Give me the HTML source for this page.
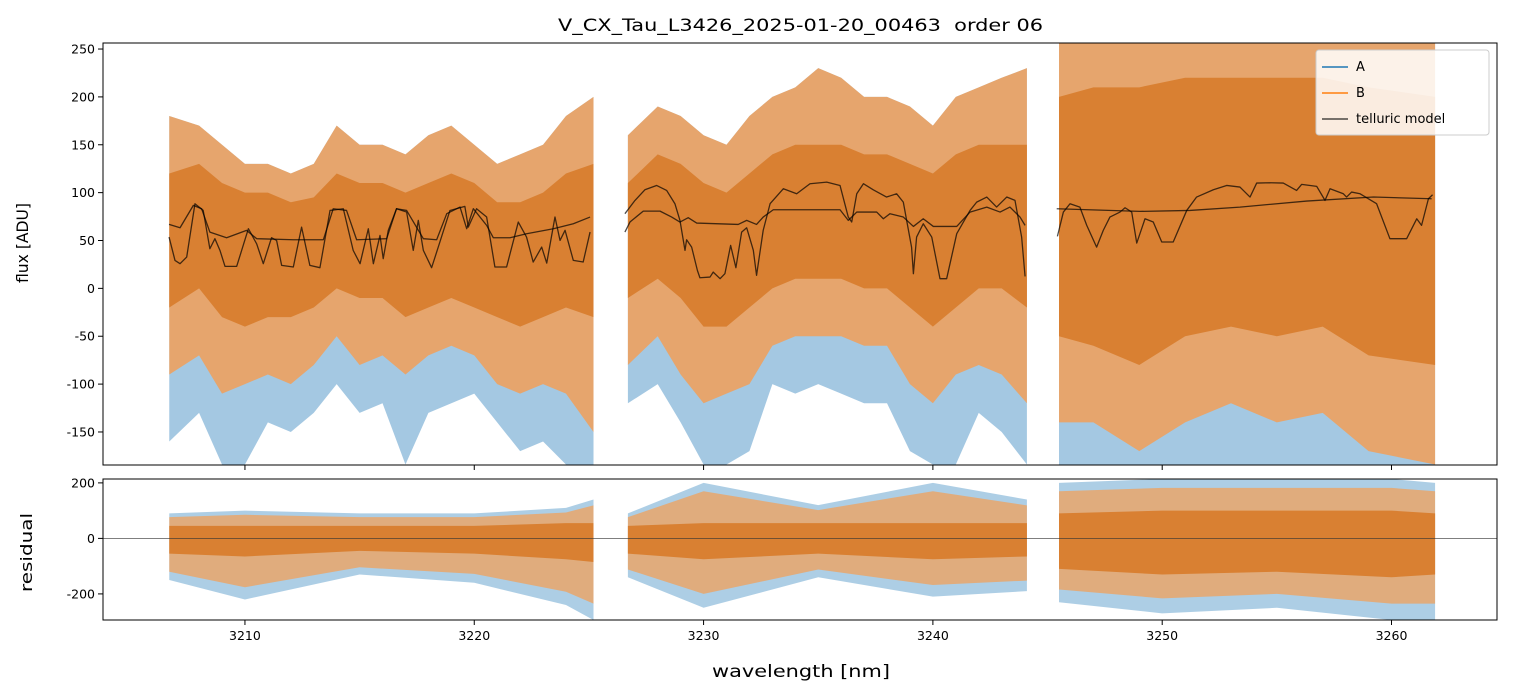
<!DOCTYPE html>
<html><head><meta charset="utf-8">
<style>
body{margin:0;background:#fff;}
svg{display:block;font-family:"DejaVu Sans","Liberation Sans",sans-serif;}
</style></head>
<body>
<svg id="chart" width="1513" height="696" viewBox="0 0 1513 696" xmlns="http://www.w3.org/2000/svg">
<defs>
<clipPath id="clipMain"><rect x="103" y="43" width="1394" height="422"/></clipPath>
<clipPath id="clipRes"><rect x="103" y="479" width="1394" height="141"/></clipPath>
</defs>
<text x="558" y="31" font-size="17" fill="#000" textLength="485" lengthAdjust="spacingAndGlyphs" xml:space="preserve">V_CX_Tau_L3426_2025-01-20_00463  order 06</text>
<g id="mainMarks" clip-path="url(#clipMain)"></g>
<g id="resMarks" clip-path="url(#clipRes)"></g>
<g id="axes"></g>
<text transform="translate(28,283) rotate(-90)" font-size="16" textLength="80" lengthAdjust="spacingAndGlyphs">flux [ADU]</text>
<text transform="translate(32,592) rotate(-90)" font-size="16" textLength="79" lengthAdjust="spacingAndGlyphs">residual</text>
<text x="712" y="677" font-size="17" textLength="178" lengthAdjust="spacingAndGlyphs">wavelength [nm]</text>
<g>
<rect x="1316" y="50" width="173" height="85" rx="3" fill="#fff" fill-opacity="0.85" stroke="#ccc"/>
<line x1="1322" y1="67" x2="1348" y2="67" stroke="#1f77b4" stroke-width="1.5"/>
<text x="1356" y="71" font-size="13">A</text>
<line x1="1322" y1="93" x2="1348" y2="93" stroke="#ff7f0e" stroke-width="1.5"/>
<text x="1356" y="97" font-size="13">B</text>
<line x1="1322" y1="119" x2="1348" y2="119" stroke="#000" stroke-opacity="0.7" stroke-width="1.5"/>
<text x="1356" y="123" font-size="13">telluric model</text>
</g>
</svg>
<script>
// ---- data ----
const xTicks=[3210,3220,3230,3240,3250,3260];
const yTicksMain=[-150,-100,-50,0,50,100,150,200,250];
const yTicksRes=[-200,0,200];
// flux envelopes per segment: wavelength, outerHi, coreHi, coreLo, outerLo, blueLo
const envWl=[[3206.7,3208,3209,3210,3211,3212,3213,3214,3215,3216,3217,3218,3219,3220,3221,3222,3223,3224,3225.2],
[3226.7,3228,3229,3230,3231,3232,3233,3234,3235,3236,3237,3238,3239,3240,3241,3242,3243,3244.1],
[3245.5,3247,3249,3251,3253,3255,3257,3259,3261.9]];
const envOutHi=[[180,170,150,130,130,120,130,170,150,150,140,160,170,150,130,140,150,180,200],
[160,190,180,160,150,180,200,210,230,220,200,200,190,170,200,210,220,230],
[256,256,256,256,256,256,256,256,256]];
const envCoreHi=[[120,130,110,100,100,90,95,120,110,110,100,110,120,110,90,90,100,120,130],
[110,140,130,110,100,120,140,150,150,150,140,140,130,120,140,150,150,150],
[200,210,210,220,220,220,220,210,200]];
const envCoreLo=[[-20,0,-30,-40,-30,-30,-20,0,-10,-10,-30,-20,-10,-20,-30,-40,-30,-20,-30],
[-10,10,-10,-40,-40,-20,0,10,10,10,0,0,-20,-40,-20,0,0,-20],
[-50,-60,-80,-50,-40,-50,-40,-70,-80]];
const envOutLo=[[-90,-70,-110,-100,-90,-100,-80,-50,-80,-70,-90,-70,-60,-70,-100,-110,-100,-110,-150],
[-80,-50,-90,-120,-110,-100,-60,-50,-50,-50,-60,-60,-100,-120,-90,-80,-90,-120],
[-140,-140,-170,-140,-120,-140,-130,-170,-184]];
const envBlueLo=[[-160,-130,-184,-184,-140,-150,-130,-100,-130,-120,-184,-130,-120,-110,-140,-170,-160,-184,-184],
[-120,-100,-140,-184,-184,-170,-100,-110,-100,-110,-120,-120,-170,-184,-184,-130,-150,-184],
[-184,-184,-184,-184,-184,-184,-184,-184,-184]];
// residual envelopes
const resWl=[[3206.7,3210,3215,3220,3224,3225.2],[3226.7,3230,3235,3240,3244.1],[3245.5,3250,3255,3260,3261.9]];
const resOutHi=[[90,100,90,90,110,140],[90,200,120,200,140],[200,214,214,214,200]];
const resCoreHi=[[45,45,45,45,55,55],[45,55,55,55,55],[90,100,100,100,90]];
const resCoreLo=[[-55,-65,-45,-55,-75,-85],[-55,-75,-55,-75,-65],[-110,-130,-120,-140,-130]];
const resOutLo=[[-150,-220,-130,-160,-240,-294],[-140,-250,-140,-210,-190],[-230,-270,-250,-294,-294]];
// telluric model curves (two per segment)
const tellWl=[
[3206.69,3207.17,3207.75,3208.11,3208.47,3209.20,3210.07,3210.51,3212.11,3213.42,3213.85,3214.43,3214.87,3216.18,3216.61,3217.05,3217.78,3218.36,3218.80,3219.38,3219.67,3219.96,3220.54,3220.83,3221.56,3222.28,3223.45,3224.32,3225.05],
[3206.69,3206.95,3207.17,3207.46,3207.82,3208.18,3208.47,3208.69,3208.91,3209.13,3209.64,3210.15,3210.51,3210.80,3211.16,3211.38,3211.60,3212.11,3212.47,3212.83,3213.27,3213.71,3214.29,3214.72,3215.02,3215.38,3215.60,3215.89,3216.03,3216.25,3216.61,3217.05,3217.34,3217.56,3217.78,3218.14,3218.43,3218.94,3219.59,3219.74,3220.10,3220.54,3220.90,3221.41,3221.92,3222.28,3222.57,3222.94,3223.16,3223.52,3223.74,3223.96,3224.32,3224.75,3225.05],
[3226.57,3227.01,3227.44,3227.95,3228.39,3228.75,3228.97,3229.19,3229.26,3229.48,3229.73,3229.84,3230.28,3230.42,3230.72,3230.93,3231.18,3231.41,3231.66,3231.88,3232.17,3232.31,3232.60,3232.90,3233.48,3234.06,3234.64,3235.37,3235.95,3236.31,3236.46,3236.68,3236.97,3237.40,3237.98,3238.42,3238.71,3239.07,3239.15,3239.29,3239.58,3239.95,3240.31,3240.60,3241.04,3241.62,3241.91,3242.35,3242.78,3243.22,3243.58,3243.87,3244.02],
[3226.57,3226.79,3227.37,3228.10,3228.61,3228.97,3229.33,3229.70,3231.51,3231.88,3232.31,3232.60,3233.04,3234.64,3235.95,3236.31,3236.68,3237.55,3237.84,3238.13,3238.71,3239.15,3239.58,3240.02,3241.04,3241.62,3242.35,3242.93,3243.36,3243.80,3244.02],
[3245.40,3249.03,3251.21,3253.39,3256.30,3259.21,3261.75],
[3245.43,3245.69,3245.98,3246.41,3246.71,3247.14,3247.43,3247.72,3248.16,3248.38,3248.67,3248.89,3249.25,3249.61,3249.98,3250.48,3251.07,3251.50,3252.23,3252.81,3253.39,3253.83,3254.12,3254.70,3255.28,3255.86,3256.08,3256.74,3257.10,3257.32,3257.90,3258.04,3258.26,3258.63,3259.35,3259.93,3260.66,3261.10,3261.31,3261.61,3261.79]];
const tellFlux=[
[66.8,63.3,86.7,83.2,58.8,52.9,60.6,51.9,50.8,50.8,83.2,81.4,50.8,51.9,83.2,81.4,51.9,50.8,78.0,84.9,62.3,83.2,65.8,52.9,52.9,57.1,62.3,67.5,74.5],
[53.6,29.2,25.8,32.7,88.4,81.4,41.4,51.9,39.7,23.0,23.0,62.3,46.6,25.8,52.9,50.1,24.0,22.3,64.0,24.0,21.6,81.4,83.2,39.7,25.8,62.3,25.8,55.3,31.0,60.6,83.2,79.7,39.7,71.0,39.7,21.6,43.1,81.4,85.6,64.0,83.2,74.5,22.3,22.3,69.3,53.6,27.5,43.1,26.4,74.5,50.1,60.6,29.2,27.5,58.8],
[78.0,91.9,103.0,107.5,102.3,88.4,71.0,39.7,50.8,43.1,18.8,11.1,11.8,17.0,10.1,15.3,44.9,21.6,58.8,63.3,39.7,13.6,60.6,88.4,104.1,98.8,109.3,111.0,107.5,74.5,69.3,98.8,109.3,103.0,95.4,98.8,90.1,43.1,15.3,53.6,67.5,53.6,10.1,10.1,57.1,81.4,90.1,95.4,84.9,95.4,91.9,53.6,12.5],
[58.8,69.3,80.7,80.7,74.5,69.3,73.8,68.2,66.8,71.0,66.8,74.5,82.1,82.1,82.1,71.0,79.7,79.7,72.7,78.0,74.5,64.7,72.7,64.7,64.7,79.7,84.9,79.7,84.9,74.5,65.8],
[83.2,80.4,81.4,84.9,91.2,95.4,93.6],
[54.3,79.7,88.4,84.9,65.8,43.1,60.6,74.5,79.7,84.2,79.7,47.3,72.7,69.3,48.4,48.4,81.4,95.4,103.0,107.5,105.8,95.4,110.0,110.3,110.0,102.3,108.6,106.5,91.9,104.1,98.8,95.4,100.6,98.8,88.4,51.9,51.9,72.7,65.8,93.6,97.8]];

// ---- scales ----
const X0=103,X1=1497;
const xmin=3203.81,xmax=3264.6;
const sx=v=>X0+(v-xmin)/(xmax-xmin)*(X1-X0);
const MY0=43,MY1=465,mymin=-184.5,mymax=256.3;
const sy=v=>MY1-(v-mymin)/(mymax-mymin)*(MY1-MY0);
const RY0=479,RY1=620,rymin=-294,rymax=214;
const sr=v=>RY1-(v-rymin)/(rymax-rymin)*(RY1-RY0);
const NS='http://www.w3.org/2000/svg';
function mk(tag,attrs,parent){const e=document.createElementNS(NS,tag);for(const k in attrs)e.setAttribute(k,attrs[k]);parent.appendChild(e);return e;}
function band(wl,hi,lo,scale){let p=wl.map((w,i)=>sx(w)+','+scale(hi[i]));for(let i=wl.length-1;i>=0;i--)p.push(sx(wl[i])+','+scale(lo[i]));return p.join(' ');}

const main=document.getElementById('mainMarks');
for(let s=0;s<3;s++){
  const b=mk('polygon',{points:band(envWl[s],envOutHi[s],envBlueLo[s],sy),fill:'#4a92c6','fill-opacity':0.5},main);
  
  
  const o=mk('polygon',{points:band(envWl[s],envOutHi[s],envOutLo[s],sy),fill:'#fc9a45','fill-opacity':0.75},main);
  
  
  const c=mk('polygon',{points:band(envWl[s],envCoreHi[s],envCoreLo[s],sy),fill:'#d98032'},main);
  
  
}
for(let k=0;k<tellWl.length;k++){
  const l=mk('polyline',{points:tellWl[k].map((w,i)=>sx(w)+','+sy(tellFlux[k][i])).join(' '),fill:'none',stroke:'#000','stroke-opacity':0.7,'stroke-width':1.3,'stroke-linejoin':'round'},main);
  
  
}
const res=document.getElementById('resMarks');
for(let s=0;s<3;s++){
  const b=mk('polygon',{points:band(resWl[s],resOutHi[s],resOutLo[s],sr),fill:'#4a92c6','fill-opacity':0.45},res);
  
  
  const o=mk('polygon',{points:band(resWl[s],resOutHi[s].map(v=>v*0.85),resOutLo[s].map(v=>v*0.8),sr),fill:'#fc9a45','fill-opacity':0.65},res);
  
  
  const c=mk('polygon',{points:band(resWl[s],resCoreHi[s],resCoreLo[s],sr),fill:'#d98032'},res);
  
  
}
const zl=mk('line',{x1:X0,x2:X1,y1:sr(0),y2:sr(0),stroke:'#333','stroke-width':0.6},res);



// ---- axes ----
const ax=document.getElementById('axes');
const f1=mk('rect',{x:X0,y:MY0,width:X1-X0,height:MY1-MY0,fill:'none',stroke:'#000','stroke-width':1},ax);


const f2=mk('rect',{x:X0,y:RY0,width:X1-X0,height:RY1-RY0,fill:'none',stroke:'#000','stroke-width':1},ax);


xTicks.forEach(v=>{
  const x=sx(v);
  mk('line',{x1:x,x2:x,y1:MY1,y2:MY1+5,stroke:'#000'},ax);
  mk('line',{x1:x,x2:x,y1:RY1,y2:RY1+5,stroke:'#000'},ax);
  const t=mk('text',{x:x,y:RY1+20,'text-anchor':'middle','font-size':12.5},ax);
  t.textContent=v;
  
  
});
yTicksMain.forEach(v=>{
  const y=sy(v);
  mk('line',{x1:X0-5,x2:X0,y1:y,y2:y,stroke:'#000'},ax);
  const t=mk('text',{x:X0-8,y:y+4.5,'text-anchor':'end','font-size':12.5},ax);
  t.textContent=v;
  
  
});
yTicksRes.forEach(v=>{
  const y=sr(v);
  mk('line',{x1:X0-5,x2:X0,y1:y,y2:y,stroke:'#000'},ax);
  const t=mk('text',{x:X0-8,y:y+4.5,'text-anchor':'end','font-size':12.5},ax);
  t.textContent=v;
  
  
});
</script>
</body></html>
